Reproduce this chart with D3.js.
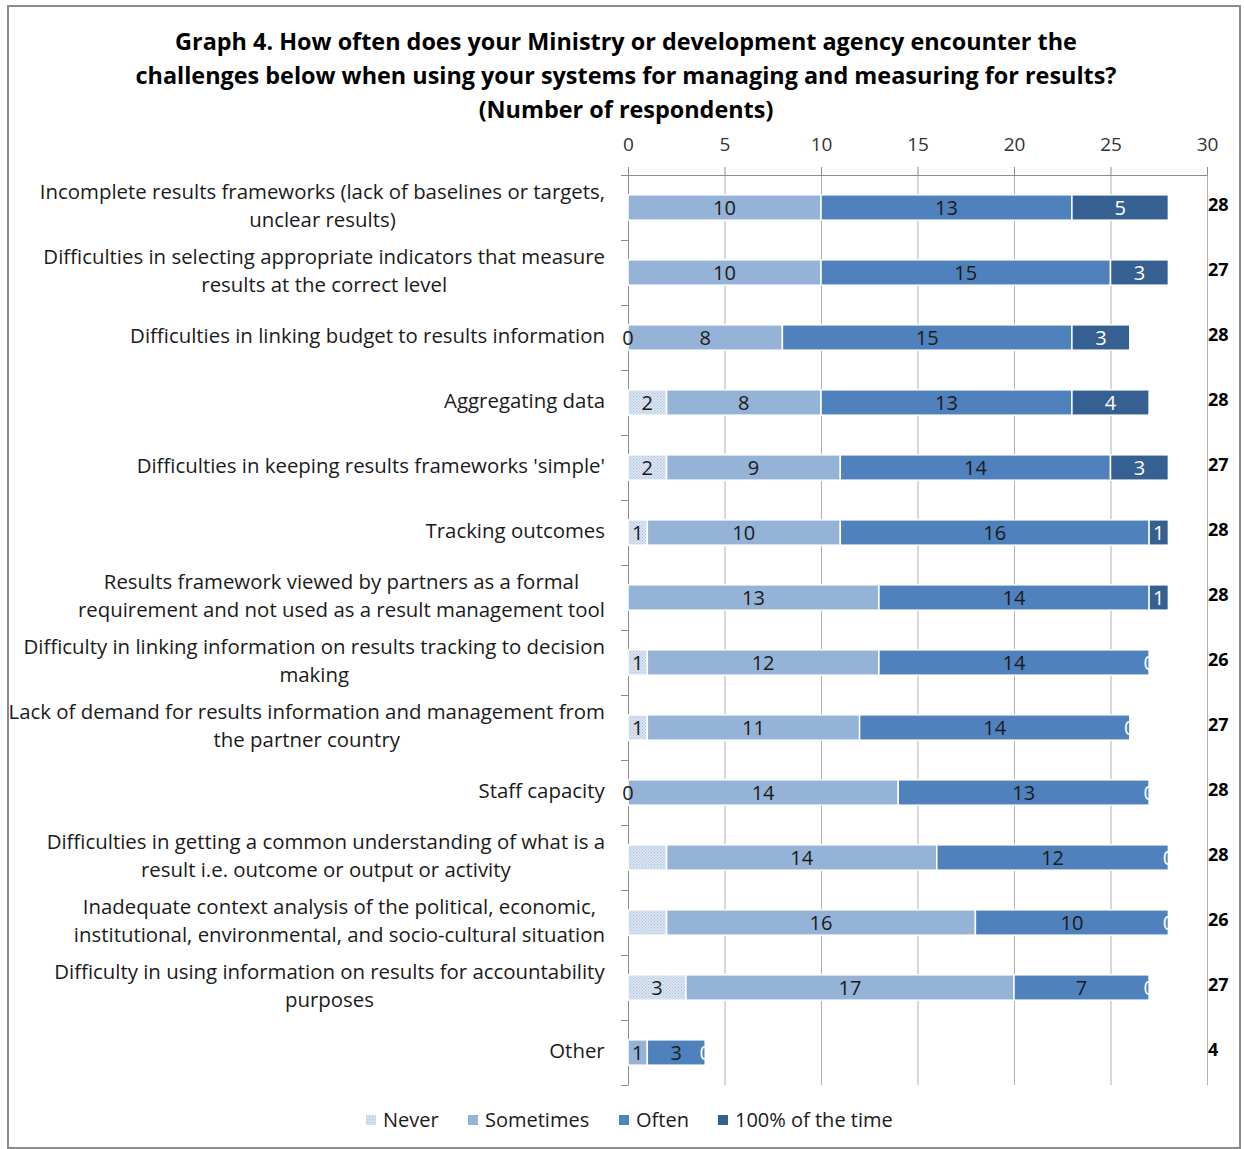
<!DOCTYPE html>
<html>
    <head>
        <title>Graph 4</title>
        <meta charset="utf-8">
        <style>
            html, body {
                margin: 0px;
                padding: 0px;
                background-color: #fff;
                font-family: "Open Sans", sans-serif;
            }

            .frame {
                fill: #fff;
                stroke: #8c8c8c;
                stroke-width: 2;
            }

            .title {
                font-size: 23.4px;
                font-weight: bold;
                fill: #000;
            }

            .topAxis text {
                font-size: 19px;
                fill: #333;
                font-family: "Open Sans", sans-serif;
            }

            .topAxis .domain, .topAxis line, .leftAxis .domain, .leftAxis line {
                stroke: #8c8c8c;
            }

            .grid line {
                stroke: #b3b3b3;
            }

            .grid .domain {
                stroke: none;
            }

            .cat text {
                font-size: 20.4px;
                fill: #1a1a1a;
            }

            .legend text {
                font-size: 20px;
                fill: #1a1a1a;
            }

            .seg rect {
                stroke-width: 1.5;
            }

            .segLabels text {
                font-size: 20px;
                text-anchor: middle;
            }

            .total {
                font-size: 18px;
                font-weight: bold;
                fill: #000;
            }
        </style>
        <script src="https://cdnjs.cloudflare.com/ajax/libs/d3/7.8.5/d3.min.js"></script>
    </head>
    <body>
        <div id="main">
        </div>

        <script>
            // chart data
            var categories = [
                "Incomplete results frameworks (lack of baselines or targets,|unclear results)",
                "Difficulties in selecting appropriate indicators that measure|results at the correct level",
                "Difficulties in linking budget to results information",
                "Aggregating data",
                "Difficulties in keeping results frameworks 'simple'",
                "Tracking outcomes",
                "Results framework viewed by partners as a formal|requirement and not used as a result management tool",
                "Difficulty in linking information on results tracking to decision|making",
                "Lack of demand for results information and management from|the partner country",
                "Staff capacity",
                "Difficulties in getting a common understanding of what is a|result i.e. outcome or output or activity",
                "Inadequate context analysis of the political, economic,|institutional, environmental, and socio-cultural situation",
                "Difficulty in using information on results for accountability|purposes",
                "Other"
            ];
            var seriesNames = ["Never", "Sometimes", "Often", "100% of the time"];
            var never      = [0, 0, 0, 2, 2, 1, 0, 1, 1, 0, 2, 2, 3, 0];
            var sometimes  = [10, 10, 8, 8, 9, 10, 13, 12, 11, 14, 14, 16, 17, 1];
            var often      = [13, 15, 15, 13, 14, 16, 14, 14, 14, 13, 12, 10, 7, 3];
            var always     = [5, 3, 3, 4, 3, 1, 1, 0, 0, 0, 0, 0, 0, 0];
            // labels printed on the "Never" segments (some are not shown in the original)
            var neverLabels = ["", "", "0", "2", "2", "1", "", "1", "1", "0", "", "", "3", ""];
            var totals     = [28, 27, 28, 28, 27, 28, 28, 26, 27, 28, 28, 26, 27, 4];
            var xTicks     = [0, 5, 10, 15, 20, 25, 30];

            var width = 1244;
            var height = 1149;
            var plotLeft = 628, plotRight = 1207, plotTop = 175, plotBottom = 1085;

            function chart(svg) {
                var rows = categories.map(function(c, i) {
                    return { idx: i, name: c, Never: never[i], Sometimes: sometimes[i],
                             Often: often[i], "100% of the time": always[i] };
                });

                var x = d3.scaleLinear().domain([0, 30]).range([plotLeft, plotRight]);
                var y = d3.scaleBand()
                            .domain(d3.range(categories.length))
                            .range([plotTop, plotBottom])
                            .paddingInner(0.61)
                            .paddingOuter(0.305);
                var yEdge = d3.scaleLinear().domain([0, categories.length]).range([plotTop, plotBottom]);

                var colors = d3.scaleOrdinal()
                            .domain(seriesNames)
                            .range(["url(#dots)", "#95b3d7", "#4f81bd", "#366092"]);
                var labelColors = d3.scaleOrdinal()
                            .domain(seriesNames)
                            .range(["#1a1a1a", "#1a1a1a", "#1a1a1a", "#ffffff"]);

                // gridlines
                svg.append("g")
                    .attr("class", "grid")
                    .attr("transform", "translate(0," + plotTop + ")")
                    .call(d3.axisBottom(x).tickValues(xTicks).tickSize(plotBottom - plotTop).tickFormat(""));

                svg.append("g")
                    .attr("class", "topAxis")
                    .attr("transform", "translate(0," + plotTop + ")")
                    .call(d3.axisTop(x).tickValues(xTicks).tickSize(8).tickSizeOuter(0).tickPadding(16));

                svg.append("g")
                    .attr("class", "leftAxis")
                    .attr("transform", "translate(" + plotLeft + ",0)")
                    .call(d3.axisLeft(yEdge).tickValues(d3.range(categories.length + 1)).tickSize(7).tickSizeOuter(0).tickFormat(""));

                var stacked = d3.stack().keys(seriesNames)(rows);
                var segs = [];
                stacked.forEach(function(s) {
                    s.forEach(function(d) { d.key = s.key; segs.push(d); });
                });

                svg.append("g")
                    .attr("class", "seg")
                    .selectAll("rect")
                    .data(segs)
                    .enter()
                    .append("rect")
                    .attr("x", function(d) { return x(d[0]); })
                    .attr("y", function(d) { return y(d.data.idx); })
                    .attr("width", function(d) { return x(d[1]) - x(d[0]); })
                    .attr("height", y.bandwidth())
                    .attr("fill", function(d) { return colors(d.key); })
                    .style("stroke", function(d) { return d[1] > d[0] ? "#fff" : "none"; });

                svg.append("g")
                    .attr("class", "segLabels")
                    .selectAll("text")
                    .data(segs)
                    .enter()
                    .append("text")
                    .attr("x", function(d) { return x((d[0] + d[1]) / 2); })
                    .attr("y", function(d) { return y(d.data.idx) + y.bandwidth() / 2; })
                    .attr("dy", "0.35em")
                    .style("fill", function(d) { return labelColors(d.key); })
                    .text(function(d) {
                        if (d.key === "Never") return neverLabels[d.data.idx];
                        if (d.key === "Sometimes" || d.key === "Often") return d[1] - d[0] > 0 ? d[1] - d[0] : "";
                        return d.data.idx >= 7 || d[1] - d[0] > 0 ? d[1] - d[0] : "";
                    });

                // category labels
                var cat = svg.append("g").attr("class", "cat");
                rows.forEach(function(r) {
                    var lines = r.name.split("|");
                    var cy = y(r.idx) + y.bandwidth() / 2 - 2;
                    var t = cat.append("text")
                        .attr("text-anchor", "middle")
                        .attr("y", cy - (lines.length - 1) * 14);
                    lines.forEach(function(l, j) {
                        t.append("tspan")
                            .attr("x", 0)
                            .attr("dy", j === 0 ? "0.35em" : 28)
                            .text(l);
                    });
                    var w = t.node().getBBox().width;
                    t.attr("transform", "translate(" + (605 - w / 2) + ",0)");
                });

                // totals
                svg.selectAll(".total")
                    .data(totals)
                    .enter()
                    .append("text")
                    .attr("class", "total")
                    .attr("x", plotRight + 1)
                    .attr("y", function(d, i) { return y(i) + y.bandwidth() / 2 - 3; })
                    .attr("dy", "0.35em")
                    .text(function(d) { return d; });

                // title
                var title = ["Graph 4. How often does your Ministry or development agency encounter the",
                             "challenges below when using your systems for managing and measuring for results?",
                             "(Number of respondents)"];
                svg.selectAll(".title")
                    .data(title)
                    .enter()
                    .append("text")
                    .attr("class", "title")
                    .attr("x", 626)
                    .attr("y", function(d, i) { return 50 + i * 34; })
                    .attr("text-anchor", "middle")
                    .text(function(d) { return d; });

                // legend
                var legX = [366, 468, 619, 718];
                var leg = svg.append("g").attr("class", "legend");
                seriesNames.forEach(function(s, i) {
                    leg.append("rect")
                        .attr("x", legX[i])
                        .attr("y", 1115)
                        .attr("width", 10)
                        .attr("height", 10)
                        .attr("fill", colors(s));
                    leg.append("text")
                        .attr("x", legX[i] + 17)
                        .attr("y", 1120)
                        .attr("dy", "0.35em")
                        .text(s);
                });
            }

            function main() {
                var svg = d3.select("#main")
                            .append("svg")
                            .attr("width", width)
                            .attr("height", height);

                var pat = svg.append("defs").append("pattern")
                    .attr("id", "dots")
                    .attr("patternUnits", "userSpaceOnUse")
                    .attr("width", 3)
                    .attr("height", 3);
                pat.append("rect").attr("width", 3).attr("height", 3).attr("fill", "#dbe5f1");
                pat.append("rect").attr("width", 1).attr("height", 1).attr("fill", "#a9c0de");
                pat.append("rect").attr("x", 1.5).attr("y", 1.5).attr("width", 1).attr("height", 1).attr("fill", "#a9c0de");

                svg.append("rect")
                    .attr("class", "frame")
                    .attr("x", 8)
                    .attr("y", 6)
                    .attr("width", 1232)
                    .attr("height", 1142);

                chart(svg);
            }

            main();
        </script>
    </body>
</html>
